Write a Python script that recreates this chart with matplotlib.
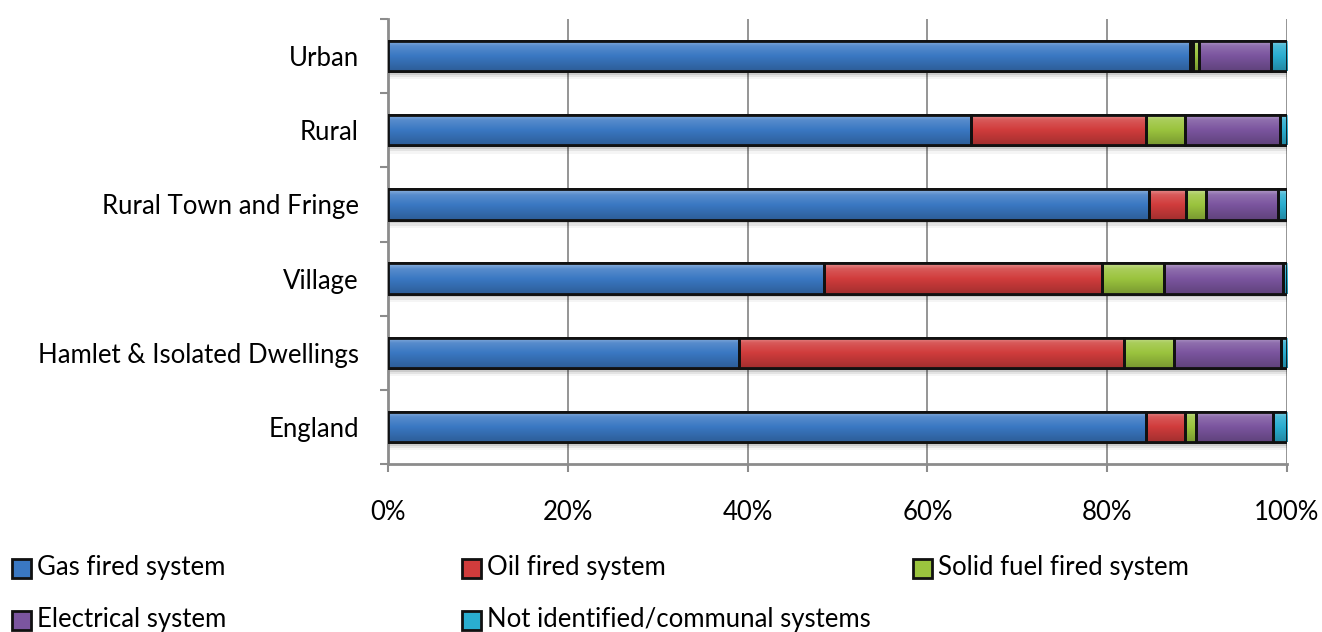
import matplotlib.pyplot as plt
import matplotlib.patches as mpatches
import numpy as np
from matplotlib.colors import LinearSegmentedColormap, to_rgb

# Share of dwellings by main heating system (%)
areas = ["Urban", "Rural", "Rural Town and Fringe", "Village",
         "Hamlet & Isolated Dwellings", "England"]
gas = [89.2, 64.9, 84.6, 48.5, 39.0, 84.3]
oil = [0.3, 19.4, 4.2, 30.9, 42.9, 4.3]
solid = [0.7, 4.4, 2.2, 6.9, 5.5, 1.3]
electric = [8.0, 10.5, 8.0, 13.2, 11.9, 8.5]
other = [1.8, 0.8, 1.0, 0.5, 0.7, 1.6]

series = ["Gas fired system", "Oil fired system", "Solid fuel fired system",
          "Electrical system", "Not identified/communal systems"]
colors = ["#3a78c3", "#d13c3c", "#9bc43e", "#7b559f", "#2aaed0"]
xticks = [0, 20, 40, 60, 80, 100]

FONT = "Lato"
FS = 18.5
GREY = "#8c8c8c"


def shade_cmap(c):
    r = np.array(to_rgb(c))
    light = r + (1 - r) * 0.45
    dark = r * 0.78
    return LinearSegmentedColormap.from_list(
        "s", [(0, light), (0.18, r + (1 - r) * 0.15), (0.5, r), (1, dark)])


grad = np.linspace(0, 1, 64).reshape(-1, 1)

fig = plt.figure(figsize=(13.22, 6.32), dpi=100)
ax = fig.add_axes([388 / 1322, 1 - 464 / 632, 899 / 1322, 445 / 632])

y = np.arange(len(areas))
h = 0.41
values = [gas, oil, solid, electric, other]
left = np.zeros(len(areas))

# soft shadow under each bar
totals = np.sum(values, axis=0)
for dy, a in [(0.05, 0.10), (0.08, 0.07), (0.11, 0.04)]:
    ax.barh(y + dy, totals, height=h, left=0, color="#000000", alpha=a,
            linewidth=0, zorder=2)

for vals, c in zip(values, colors):
    bars = ax.barh(y, vals, height=h, left=left, color=c,
                   edgecolor="#111111", linewidth=2, zorder=3)
    cmap = shade_cmap(c)
    for b in bars:
        x0, y0 = b.get_x(), b.get_y()
        im = ax.imshow(grad, cmap=cmap, aspect="auto", zorder=3.5,
                       extent=[x0, x0 + b.get_width(), y0 + b.get_height(), y0])
        im.set_clip_path(b)
        # redraw outline over the gradient
        ax.add_patch(mpatches.Rectangle((x0, y0), b.get_width(), b.get_height(),
                                        fill=False, edgecolor="#111111",
                                        linewidth=2, zorder=4))
    left = left + np.array(vals)

ax.set_xlim(0, 100)
ax.set_ylim(len(areas) - 0.5, -0.5)

ax.set_xticks(xticks)
ax.set_xticklabels([f"{t}%" for t in xticks], fontsize=FS, family=FONT)
ax.set_yticks(y)
ax.set_yticklabels(areas, fontsize=FS, family=FONT)
ax.set_yticks(np.arange(len(areas) + 1) - 0.5, minor=True)

ax.tick_params(axis="y", which="major", length=0, pad=21)
ax.tick_params(axis="y", which="minor", length=6, width=1.5, color=GREY)
ax.tick_params(axis="x", length=6, width=1.5, color=GREY, pad=20)

ax.grid(axis="x", color=GREY, linewidth=1.3, zorder=0)
ax.set_axisbelow(True)
for s in ["top", "right"]:
    ax.spines[s].set_visible(False)
for s in ["left", "bottom"]:
    ax.spines[s].set_color(GREY)
    ax.spines[s].set_linewidth(2)

# legend: three columns, two rows
slots = [(12, 568), (462, 568), (913, 568), (12, 620), (462, 620)]
for (px, py), name, c in zip(slots, series, colors):
    sq = 19
    fx, fy = px / 1322, 1 - (py + sq / 2) / 632
    fig.patches.append(mpatches.Rectangle(
        (fx, fy), sq / 1322, sq / 632, transform=fig.transFigure,
        facecolor=c, edgecolor="#111111", linewidth=2))
    fig.text((px + 25) / 1322, 1 - py / 632, name, fontsize=FS, family=FONT,
             va="center", ha="left")

fig.savefig("out.png", dpi=100, facecolor="white")
